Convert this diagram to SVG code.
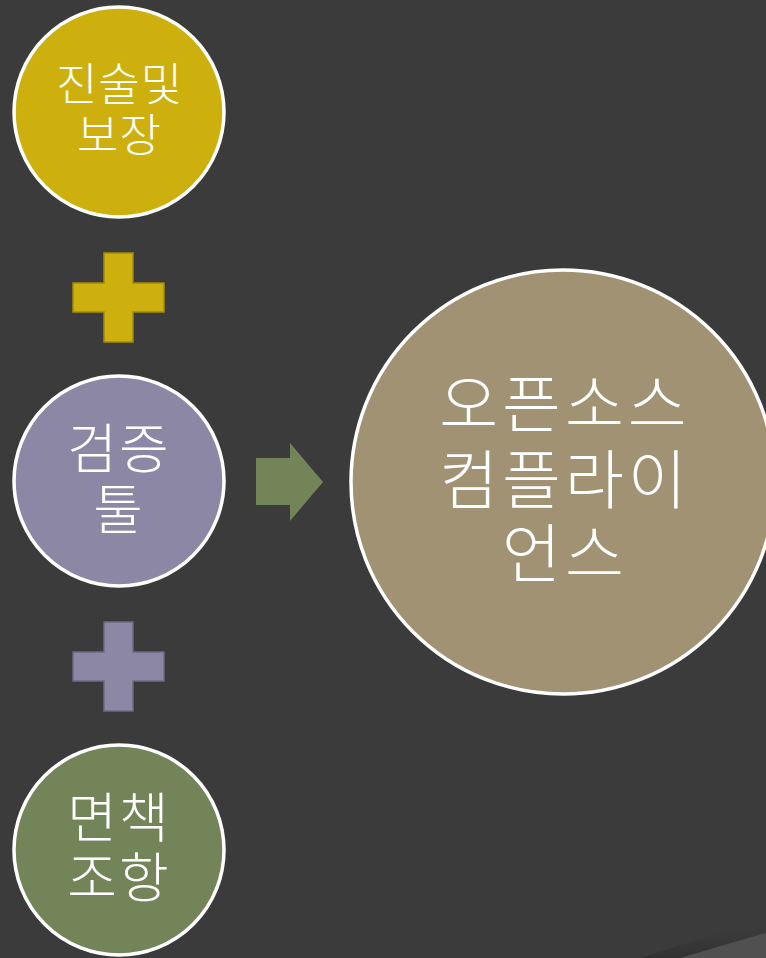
<svg xmlns="http://www.w3.org/2000/svg" width="766" height="958" viewBox="0 0 766 958">
<defs>
<style>
.node{stroke:#ffffff;stroke-width:3.5}
.t{font-family:"Noto Sans CJK KR","Noto Sans",sans-serif;font-weight:300;fill:#ffffff;text-anchor:middle}
.plus{stroke-width:1.5}
</style>
<linearGradient id="sh" x1="0" y1="0" x2="0" y2="1">
<stop offset="0" stop-color="#3b3b3b" stop-opacity="0"/>
<stop offset="1" stop-color="#2e2e2e" stop-opacity="0.8"/>
</linearGradient>
</defs>
<rect width="766" height="958" fill="#3b3b3b"/>
<polygon points="640,958 766,918 766,932 680,958" fill="url(#sh)"/>
<polygon points="680,958 766,933 766,958" fill="#505050"/>
<g id="connectors">
<path class="plus" d="M104,253H133V283H164V312H133V342H104V312H73V283H104Z" fill="#cdb00d" stroke="#a38c0b"/>
<path class="plus" d="M104,622H133V652H164V681H133V711H104V681H73V652H104Z" fill="#8c87a4" stroke="#6d6985"/>
<polygon points="256,458 290,458 290,443 323,482 290,521 290,505 256,505" fill="#748459"/>
</g>
<g id="node1">
<circle class="node" cx="119" cy="112" r="105" fill="#cdb00d"/>
<text class="t" font-size="45" letter-spacing="1" x="119.5" y="101">진술및</text>
<text class="t" font-size="45" letter-spacing="1" x="119.5" y="152">보장</text>
</g>
<g id="node2">
<circle class="node" cx="119" cy="481" r="105" fill="#8c87a4"/>
<text class="t" font-size="54" letter-spacing="2" x="119" y="469">검증</text>
<text class="t" font-size="54" x="118" y="530">툴</text>
</g>
<g id="node3">
<circle class="node" cx="119" cy="850" r="105" fill="#748459"/>
<text class="t" font-size="54" letter-spacing="2" x="119" y="838">면책</text>
<text class="t" font-size="54" letter-spacing="2" x="119" y="898">조항</text>
</g>
<g id="node4">
<circle class="node" cx="563" cy="482" r="212" fill="#a09272"/>
<text class="t" font-size="64" letter-spacing="4" x="565" y="427">오픈소스</text>
<text class="t" font-size="64" letter-spacing="4" x="565" y="503">컴플라이</text>
<text class="t" font-size="64" letter-spacing="4" x="565" y="577">언스</text>
</g>
</svg>
